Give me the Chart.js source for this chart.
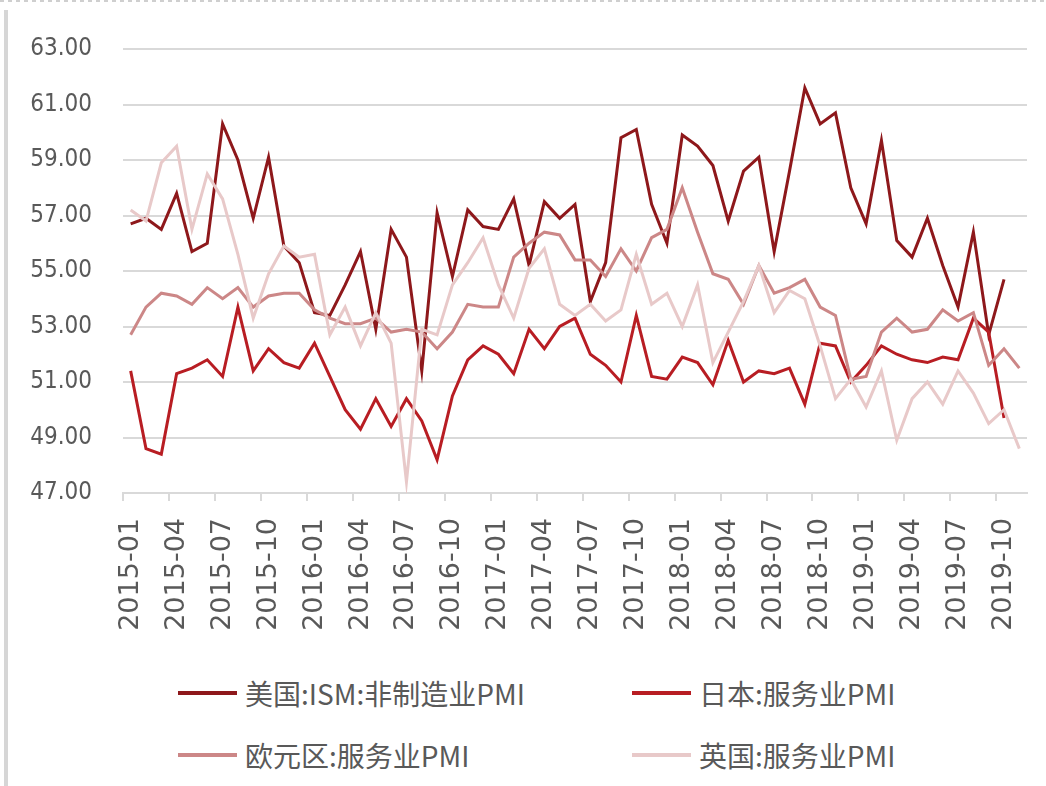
<!DOCTYPE html>
<html>
<head>
<meta charset="utf-8">
<script src="https://cdn.jsdelivr.net/npm/chart.js@4.4.1/dist/chart.umd.min.js"></script>
<style>
    html, body { margin: 0; padding: 0; background: #fff; }
    #page { position: relative; width: 1046px; height: 786px; overflow: hidden; }
    #topline { position: absolute; left: 0; top: 0; width: 1046px; height: 2px;
        background: repeating-linear-gradient(90deg, #cfcfcf 0 4px, transparent 4px 8px); }
    #leftline { position: absolute; left: 4px; top: 10px; width: 4px; height: 776px; background: #d6d6d6; }
    #wrap { position: absolute; left: 0; top: 0; width: 1046px; height: 650px; }
    #legend { position: absolute; left: 178px; top: 673px; display: grid;
        grid-template-columns: 454px 360px; row-gap: 22px; }
    .item { display: flex; align-items: center; height: 40px;
        font-family: 'Noto Sans CJK SC', sans-serif; font-size: 28px; color: #595959; }
    .swatch { width: 59px; height: 4px; margin-right: 8px; }
</style>
</head>
<body>
<div id="page">
    <div id="topline"></div>
    <div id="leftline"></div>
    <div id="wrap"><canvas id="myChart" width="1046" height="650"></canvas></div>
    <div id="legend"></div>
</div>
<script>
// Months 2015-01 .. 2019-11
var months = [
    "2015-01","2015-02","2015-03","2015-04","2015-05","2015-06","2015-07","2015-08","2015-09","2015-10","2015-11","2015-12",
    "2016-01","2016-02","2016-03","2016-04","2016-05","2016-06","2016-07","2016-08","2016-09","2016-10","2016-11","2016-12",
    "2017-01","2017-02","2017-03","2017-04","2017-05","2017-06","2017-07","2017-08","2017-09","2017-10","2017-11","2017-12",
    "2018-01","2018-02","2018-03","2018-04","2018-05","2018-06","2018-07","2018-08","2018-09","2018-10","2018-11","2018-12",
    "2019-01","2019-02","2019-03","2019-04","2019-05","2019-06","2019-07","2019-08","2019-09","2019-10","2019-11"
];

var usIsm = [
    56.7, 56.9, 56.5, 57.8, 55.7, 56.0, 60.3, 59.0, 56.9, 59.1, 55.9, 55.3,
    53.5, 53.4, 54.5, 55.7, 52.9, 56.5, 55.5, 51.4, 57.1, 54.8, 57.2, 56.6,
    56.5, 57.6, 55.2, 57.5, 56.9, 57.4, 53.9, 55.3, 59.8, 60.1, 57.4, 56.0,
    59.9, 59.5, 58.8, 56.8, 58.6, 59.1, 55.7, 58.6, 61.6, 60.3, 60.7, 58.0,
    56.7, 59.7, 56.1, 55.5, 56.9, 55.2, 53.7, 56.4, 52.7, 54.7, null
];
var japan = [
    51.4, 48.6, 48.4, 51.3, 51.5, 51.8, 51.2, 53.7, 51.4, 52.2, 51.7, 51.5,
    52.4, 51.2, 50.0, 49.3, 50.4, 49.4, 50.4, 49.6, 48.2, 50.5, 51.8, 52.3,
    52.0, 51.3, 52.9, 52.2, 53.0, 53.3, 52.0, 51.6, 51.0, 53.4, 51.2, 51.1,
    51.9, 51.7, 50.9, 52.5, 51.0, 51.4, 51.3, 51.5, 50.2, 52.4, 52.3, 51.0,
    51.6, 52.3, 52.0, 51.8, 51.7, 51.9, 51.8, 53.3, 52.8, 49.7, null
];
var euroArea = [
    52.7, 53.7, 54.2, 54.1, 53.8, 54.4, 54.0, 54.4, 53.7, 54.1, 54.2, 54.2,
    53.6, 53.3, 53.1, 53.1, 53.3, 52.8, 52.9, 52.8, 52.2, 52.8, 53.8, 53.7,
    53.7, 55.5, 56.0, 56.4, 56.3, 55.4, 55.4, 54.8, 55.8, 55.0, 56.2, 56.5,
    58.0, 56.4, 54.9, 54.7, 53.8, 55.2, 54.2, 54.4, 54.7, 53.7, 53.4, 51.1,
    51.2, 52.8, 53.3, 52.8, 52.9, 53.6, 53.2, 53.5, 51.6, 52.2, 51.5
];
var uk = [
    57.2, 56.8, 58.9, 59.5, 56.5, 58.5, 57.6, 55.6, 53.3, 54.9, 55.9, 55.5,
    55.6, 52.7, 53.7, 52.3, 53.5, 52.4, 47.4, 52.9, 52.7, 54.5, 55.3, 56.2,
    54.5, 53.3, 55.1, 55.8, 53.8, 53.4, 53.8, 53.2, 53.6, 55.6, 53.8, 54.2,
    53.0, 54.5, 51.7, 52.8, 53.9, 55.2, 53.5, 54.3, 54.0, 52.3, 50.4, 51.1,
    50.1, 51.4, 48.9, 50.4, 51.0, 50.2, 51.4, 50.6, 49.5, 50.0, 48.6
];

var seriesNames = ["美国:ISM:非制造业PMI", "日本:服务业PMI", "欧元区:服务业PMI", "英国:服务业PMI"];
var seriesColors = ["#8e181b", "#b81d23", "#cc8787", "#e8c9c9"];
var yTicks = { min: 47, max: 63, step: 2 };

var gridGray = "#d9d9d9";
var textGray = "#595959";

var datasets = [usIsm, japan, euroArea, uk].map((values, i) => ({
    label: seriesNames[i],
    data: values,
    borderColor: seriesColors[i],
    backgroundColor: seriesColors[i],
    borderWidth: 3,
    pointRadius: 0,
    tension: 0,
    spanGaps: false,
    order: 4 - i
}));

const chart = new Chart("myChart", {
    type: "line",
    data: { labels: months, datasets: datasets },
    options: {
        responsive: false,
        animation: false,
        layout: { padding: { top: 49, left: 0, right: 19, bottom: 17 } },
        plugins: { legend: { display: false }, tooltip: { enabled: false } },
        scales: {
            x: {
                offset: true,
                grid: {
                    offset: true,
                    drawOnChartArea: false,
                    tickLength: 8,
                    lineWidth: 2,
                    color: ctx => (ctx.index !== undefined && ctx.index % 3 === 0) ? gridGray : "rgba(0,0,0,0)"
                },
                border: { display: true, color: gridGray, width: 2 },
                ticks: {
                    autoSkip: false,
                    minRotation: 90,
                    maxRotation: 90,
                    padding: 17,
                    color: textGray,
                    font: { family: "'DejaVu Sans', sans-serif", size: 27 },
                    callback: function (value, index) {
                        return index % 3 === 0 ? this.getLabelForValue(value) : "";
                    }
                },
                afterFit: scale => {
                    scale.height = 140;
                    // keep the plot running to the right edge like the original
                    scale.paddingLeft = 0;
                    scale.paddingRight = 0;
                }
            },
            y: {
                min: yTicks.min,
                max: yTicks.max,
                grid: { color: gridGray, lineWidth: 2, drawTicks: false },
                border: { display: false },
                ticks: {
                    stepSize: yTicks.step,
                    padding: 31,
                    color: textGray,
                    font: { family: "'DejaVu Sans Condensed', sans-serif", size: 24 },
                    callback: v => v.toFixed(2)
                },
                afterFit: scale => { scale.width = 123; }
            }
        }
    }
});

// Legend in 2 columns, built from the datasets
const legendBox = document.getElementById("legend");
chart.data.datasets.forEach(ds => {
    const item = document.createElement("div");
    item.className = "item";
    const sw = document.createElement("span");
    sw.className = "swatch";
    sw.style.background = ds.borderColor;
    const txt = document.createElement("span");
    txt.textContent = ds.label;
    item.appendChild(sw);
    item.appendChild(txt);
    legendBox.appendChild(item);
});
</script>
</body>
</html>
